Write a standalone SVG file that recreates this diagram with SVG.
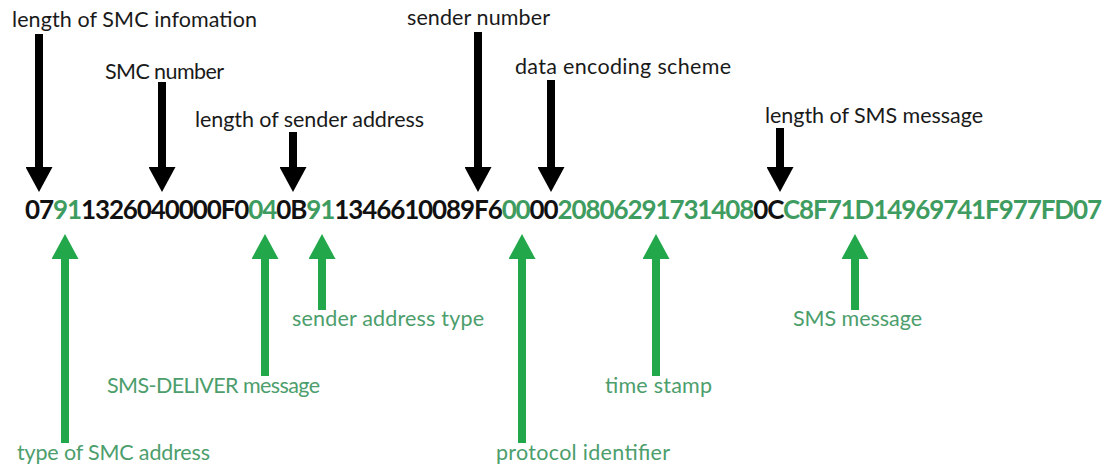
<svg xmlns="http://www.w3.org/2000/svg" width="1112" height="468" viewBox="0 0 1112 468">
<defs>
<marker id="hb" viewBox="0 0 25 27" markerWidth="25" markerHeight="27" refX="1" refY="13.5" orient="auto" markerUnits="userSpaceOnUse"><path d="M0,0 L25,13.5 L0,27 z" fill="#000"/></marker>
<marker id="hg" viewBox="0 0 25 27" markerWidth="25" markerHeight="27" refX="1" refY="13.5" orient="auto" markerUnits="userSpaceOnUse"><path d="M0,0 L25,13.5 L0,27 z" fill="#22a84a"/></marker>
</defs>
<style>
.lb{font-family:Lato,"Liberation Sans",sans-serif;font-size:21.5px;fill:#1a1a1a}
.lg{font-family:Lato,"Liberation Sans",sans-serif;font-size:21.5px;fill:#4c9e6c}
.hex{font-family:Lato,"Liberation Sans",sans-serif;font-size:26px;font-weight:bold;fill:#111}
.g{fill:#3f9c60}
.ab{stroke:#000;stroke-width:8;marker-end:url(#hb)}
.ag{stroke:#22a84a;stroke-width:8;marker-end:url(#hg)}
</style>
<rect width="1112" height="468" fill="#fff"/>
<g id="connectors">
<line class="ab" x1="39" y1="34" x2="39" y2="168"/>
<line class="ab" x1="162" y1="82" x2="162" y2="168"/>
<line class="ab" x1="293" y1="132" x2="293" y2="168"/>
<line class="ab" x1="478" y1="32" x2="478" y2="168"/>
<line class="ab" x1="551" y1="80" x2="551" y2="168"/>
<line class="ab" x1="780" y1="128" x2="780" y2="168"/>
<line class="ag" x1="65" y1="443" x2="65" y2="258"/>
<line class="ag" x1="265" y1="376" x2="265" y2="258"/>
<line class="ag" x1="322" y1="310" x2="322" y2="258"/>
<line class="ag" x1="522" y1="443" x2="522" y2="258"/>
<line class="ag" x1="656" y1="376" x2="656" y2="258"/>
<line class="ag" x1="855" y1="310" x2="855" y2="258"/>
</g>
<g id="hexstring">
<text class="hex" x="25" y="219" textLength="1077" lengthAdjust="spacing">07<tspan class="g">91</tspan>1326040000F0<tspan class="g">04</tspan>0B<tspan class="g">91</tspan>1346610089F6<tspan class="g">00</tspan>00<tspan class="g">20806291731408</tspan>0C<tspan class="g">C8F71D14969741F977FD07</tspan></text>
</g>
<g id="len-smc-info"><text class="lb" x="12" y="27" textLength="245">length of SMC infomation</text></g>
<g id="smc-number"><text class="lb" x="105" y="79" textLength="119">SMC number</text></g>
<g id="len-sender-addr"><text class="lb" x="195" y="127" textLength="229">length of sender address</text></g>
<g id="sender-number"><text class="lb" x="407" y="25" textLength="143">sender number</text></g>
<g id="data-encoding"><text class="lb" x="515" y="74" textLength="216">data encoding scheme</text></g>
<g id="len-sms-msg"><text class="lb" x="765" y="123" textLength="218">length of SMS message</text></g>
<g id="type-smc-addr"><text class="lg" x="17" y="460" textLength="193">type of SMC address</text></g>
<g id="sms-deliver"><text class="lg" x="107" y="393" textLength="213">SMS-DELIVER message</text></g>
<g id="sender-addr-type"><text class="lg" x="292" y="326" textLength="192">sender address type</text></g>
<g id="protocol-id"><text class="lg" x="496" y="460" textLength="174">protocol identifier</text></g>
<g id="time-stamp"><text class="lg" x="605" y="393" textLength="107">time stamp</text></g>
<g id="sms-message"><text class="lg" x="793" y="326" textLength="129">SMS message</text></g>
</svg>
